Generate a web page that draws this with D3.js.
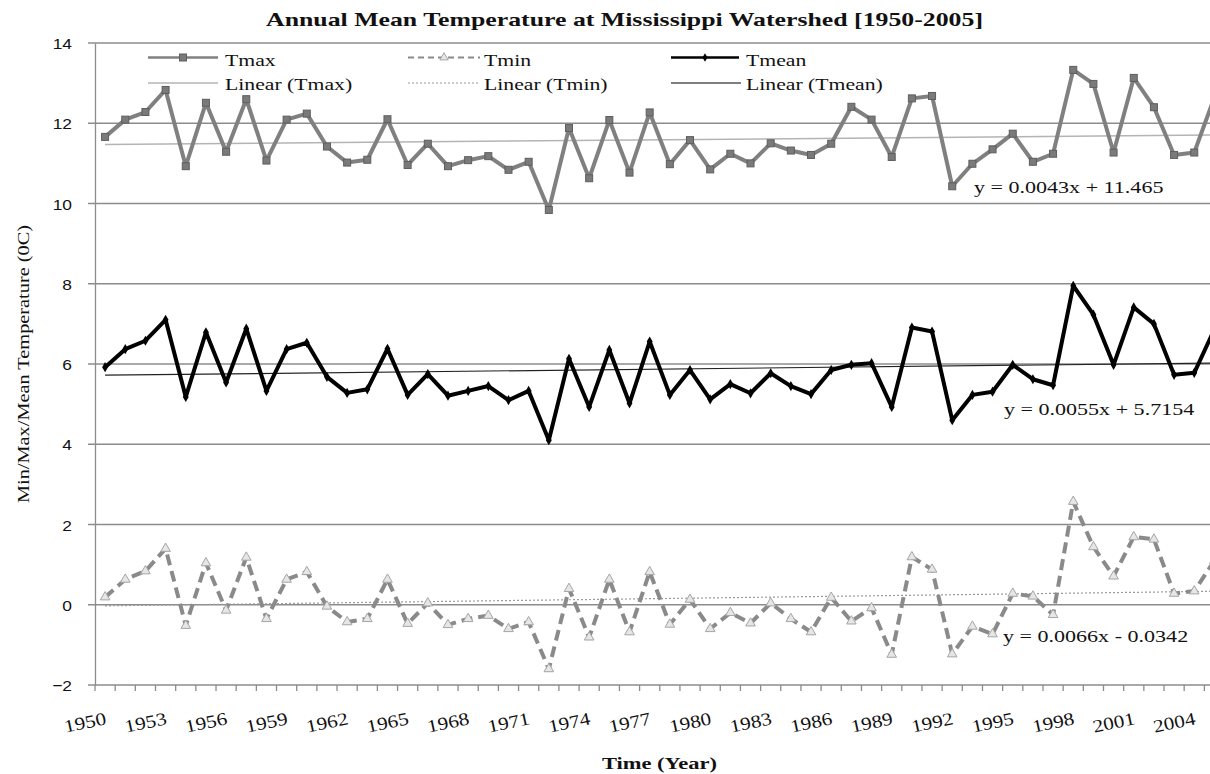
<!DOCTYPE html>
<html lang="en">

<head>
    <meta charset="utf-8">
    <title>Annual Mean Temperature at Mississippi Watershed [1950-2005]</title>
    <style type="text/css">
        body {
            margin: 0;
            background: #fff;
        }

        svg text {
            font-family: 'Liberation Serif', 'Times New Roman', serif;
            fill: #111;
        }
    </style>
    <script type="text/javascript" src="https://cdn.jsdelivr.net/npm/d3@7/dist/d3.min.js"></script>
</head>

<body>
    <script type="text/javascript">
        /* DATA */

        var years = [1950, 1951, 1952, 1953, 1954, 1955, 1956, 1957, 1958, 1959,
            1960, 1961, 1962, 1963, 1964, 1965, 1966, 1967, 1968, 1969,
            1970, 1971, 1972, 1973, 1974, 1975, 1976, 1977, 1978, 1979,
            1980, 1981, 1982, 1983, 1984, 1985, 1986, 1987, 1988, 1989,
            1990, 1991, 1992, 1993, 1994, 1995, 1996, 1997, 1998, 1999,
            2000, 2001, 2002, 2003, 2004, 2005];

        var tmax = [11.66, 12.09, 12.28, 12.83, 10.93, 12.51, 11.29, 12.60, 11.07, 12.09,
            12.24, 11.42, 11.02, 11.09, 12.10, 10.96, 11.49, 10.93, 11.08, 11.18,
            10.84, 11.04, 9.84, 11.88, 10.63, 12.08, 10.77, 12.27, 10.98, 11.58,
            10.85, 11.24, 11.00, 11.50, 11.32, 11.21, 11.49, 12.41, 12.09, 11.16,
            12.62, 12.68, 10.43, 10.99, 11.35, 11.74, 11.04, 11.24, 13.33, 12.98,
            11.27, 13.13, 12.40, 11.21, 11.27, 12.65];

        var tmin = [0.19, 0.63, 0.84, 1.40, -0.52, 1.04, -0.14, 1.18, -0.35, 0.63,
            0.82, -0.04, -0.43, -0.35, 0.63, -0.47, 0.04, -0.50, -0.35, -0.27,
            -0.60, -0.43, -1.60, 0.40, -0.81, 0.63, -0.68, 0.82, -0.49, 0.13,
            -0.60, -0.20, -0.46, 0.04, -0.35, -0.68, 0.18, -0.41, -0.08, -1.24,
            1.19, 0.88, -1.23, -0.54, -0.73, 0.28, 0.21, -0.25, 2.57, 1.44,
            0.71, 1.69, 1.63, 0.28, 0.34, 1.10];

        var tmean = [5.92, 6.37, 6.58, 7.10, 5.18, 6.79, 5.54, 6.88, 5.33, 6.37,
            6.53, 5.68, 5.28, 5.37, 6.38, 5.23, 5.75, 5.21, 5.33, 5.45,
            5.10, 5.33, 4.10, 6.13, 4.93, 6.35, 5.02, 6.56, 5.23, 5.85,
            5.12, 5.50, 5.27, 5.77, 5.45, 5.25, 5.85, 5.98, 6.02, 4.93,
            6.91, 6.81, 4.60, 5.23, 5.31, 5.98, 5.62, 5.47, 7.95, 7.23,
            5.98, 7.41, 7.00, 5.73, 5.78, 6.87];

        // trendline coefficients: y = slope * x + intercept, x = 1..56
        var trendNames = ["Tmax", "Tmin", "Tmean"];
        var trendSlopes = [0.0043, 0.0066, 0.0055];
        var trendIntercepts = [11.465, -0.0342, 5.7154];

        var yTicks = [-2, 0, 2, 4, 6, 8, 10, 12, 14];
        var xTickLabels = [1950, 1953, 1956, 1959, 1962, 1965, 1968, 1971, 1974, 1977,
            1980, 1983, 1986, 1989, 1992, 1995, 1998, 2001, 2004];

        /* LAYOUT */

        var svgW = 1210;
        var svgH = 774;
        var plotL = 95;
        var catW = 20.17;
        var plotR = plotL + years.length * catW;
        var plotT = 43;
        var plotB = 685;

        var svg = d3.select("body").append("svg")
            .attr("width", svgW)
            .attr("height", svgH);

        var x = d3.scaleBand().domain(years).range([plotL, plotR]);
        var y = d3.scaleLinear().domain([-2, 14]).range([plotB, plotT]);
        var cx = function (yr) { return x(yr) + x.bandwidth() / 2; };

        // widen glyphs, the source picture is stretched sideways
        function stretch(sel, sx) {
            sel.each(function () {
                var len = this.getComputedTextLength();
                d3.select(this)
                    .attr("textLength", len * sx)
                    .attr("lengthAdjust", "spacingAndGlyphs");
            });
        }

        /* GRID + AXES */

        var gridCol = "#8c8c8c";

        svg.append("g").selectAll("line")
            .data(yTicks)
            .enter().append("line")
            .attr("x1", plotL - 7)
            .attr("x2", plotR)
            .attr("y1", function (d) { return y(d); })
            .attr("y2", function (d) { return y(d); })
            .attr("stroke", gridCol)
            .attr("stroke-width", 1.3);

        var yAxis = svg.append("g")
            .attr("transform", "translate(" + plotL + ",0)")
            .call(d3.axisLeft(y).tickValues(yTicks).tickSize(0).tickPadding(23));
        yAxis.select(".domain").attr("stroke", gridCol).attr("stroke-width", 1.3);
        yAxis.selectAll("text")
            .style("font-family", "'Liberation Sans', Arial, sans-serif")
            .style("font-size", "15.5px")
            .attr("fill", "#222")
            .attr("dy", "0.36em");
        stretch(yAxis.selectAll("text"), 1.12);

        // category boundary ticks on the x axis
        var xAxis = svg.append("g")
            .attr("transform", "translate(0," + plotB + ")");
        xAxis.selectAll("line")
            .data(years.concat(["end"]))
            .enter().append("line")
            .attr("x1", function (d, i) { return plotL + i * x.step(); })
            .attr("x2", function (d, i) { return plotL + i * x.step(); })
            .attr("y1", 0)
            .attr("y2", 6)
            .attr("stroke", gridCol)
            .attr("stroke-width", 1.3);

        var xLab = svg.append("g").selectAll("text")
            .data(xTickLabels)
            .enter().append("text")
            .attr("transform", function (d) {
                return "translate(" + (cx(d) + 2) + ",724) rotate(-12)";
            })
            .attr("text-anchor", "end")
            .style("font-size", "18px")
            .text(function (d) { return d; });
        stretch(xLab, 1.18);

        /* TRENDLINES */

        var trendStyles = [
            { stroke: "#b4b4b4", width: 1.5, dash: null },
            { stroke: "#9a9a9a", width: 1.2, dash: "2,2" },
            { stroke: "#222", width: 1.2, dash: null }
        ];

        trendNames.forEach(function (name, k) {
            var first = years[0], last = years[years.length - 1];
            svg.append("line")
                .attr("x1", cx(first))
                .attr("x2", cx(last))
                .attr("y1", y(trendSlopes[k] * 1 + trendIntercepts[k]))
                .attr("y2", y(trendSlopes[k] * years.length + trendIntercepts[k]))
                .attr("stroke", trendStyles[k].stroke)
                .attr("stroke-width", trendStyles[k].width)
                .attr("stroke-dasharray", trendStyles[k].dash);
        });

        /* SERIES */

        var line = d3.line()
            .x(function (d, i) { return cx(years[i]); })
            .y(function (d) { return y(d); });

        // Tmax
        svg.append("path")
            .datum(tmax)
            .attr("d", line)
            .attr("fill", "none")
            .attr("stroke", "#808080")
            .attr("stroke-width", 4)
            .attr("stroke-linejoin", "round");
        svg.append("g").selectAll("rect")
            .data(tmax)
            .enter().append("rect")
            .attr("x", function (d, i) { return cx(years[i]) - 3.5; })
            .attr("y", function (d) { return y(d) - 3.5; })
            .attr("width", 7)
            .attr("height", 7)
            .attr("fill", "#7a7a7a")
            .attr("stroke", "#5e5e5e")
            .attr("stroke-width", 1);

        // Tmin
        svg.append("path")
            .datum(tmin)
            .attr("d", line)
            .attr("fill", "none")
            .attr("stroke", "#8a8a8a")
            .attr("stroke-width", 4)
            .attr("stroke-dasharray", "11,6")
            .attr("stroke-linejoin", "round");
        var tri = d3.symbol().type(d3.symbolTriangle).size(40);
        svg.append("g").selectAll("path")
            .data(tmin)
            .enter().append("path")
            .attr("d", tri)
            .attr("transform", function (d, i) {
                return "translate(" + cx(years[i]) + "," + y(d) + ")";
            })
            .attr("fill", "#e6e6e6")
            .attr("stroke", "#a5a5a5")
            .attr("stroke-width", 1);

        // Tmean
        svg.append("path")
            .datum(tmean)
            .attr("d", line)
            .attr("fill", "none")
            .attr("stroke", "#000")
            .attr("stroke-width", 4)
            .attr("stroke-linejoin", "round");
        var dia = d3.symbol().type(d3.symbolDiamond).size(30);
        svg.append("g").selectAll("path")
            .data(tmean)
            .enter().append("path")
            .attr("d", dia)
            .attr("transform", function (d, i) {
                return "translate(" + cx(years[i]) + "," + y(d) + ")";
            })
            .attr("fill", "#000");

        /* EQUATION LABELS */

        var eqPos = [[974, 193], [1003, 642], [1004, 415]];
        trendNames.forEach(function (name, k) {
            var b = trendIntercepts[k];
            var txt = "y = " + trendSlopes[k] + "x " + (b < 0 ? "- " : "+ ") + Math.abs(b);
            var t = svg.append("text")
                .attr("x", eqPos[k][0])
                .attr("y", eqPos[k][1])
                .style("font-size", "17.5px")
                .attr("fill", "#111")
                .text(txt);
            stretch(t, 1.26);
        });

        /* LEGEND */

        var legendCols = [148, 408, 671];
        var lineLen = 70;
        var row1 = 57.5, row2 = 83;

        // series row
        var lg = svg.append("g");
        lg.append("line").attr("x1", legendCols[0]).attr("x2", legendCols[0] + lineLen)
            .attr("y1", row1).attr("y2", row1)
            .attr("stroke", "#808080").attr("stroke-width", 2.5);
        lg.append("rect").attr("x", legendCols[0] + lineLen / 2 - 3.5).attr("y", row1 - 3.5)
            .attr("width", 7).attr("height", 7)
            .attr("fill", "#7a7a7a").attr("stroke", "#5e5e5e");

        lg.append("line").attr("x1", legendCols[1]).attr("x2", legendCols[1] + lineLen + 2)
            .attr("y1", row1).attr("y2", row1)
            .attr("stroke", "#8a8a8a").attr("stroke-width", 2)
            .attr("stroke-dasharray", "6,4");
        lg.append("path").attr("d", d3.symbol().type(d3.symbolTriangle).size(30))
            .attr("transform", "translate(" + (legendCols[1] + lineLen / 2 + 1) + "," + row1 + ")")
            .attr("fill", "#e6e6e6").attr("stroke", "#a5a5a5");

        lg.append("line").attr("x1", legendCols[2]).attr("x2", legendCols[2] + lineLen - 2)
            .attr("y1", row1).attr("y2", row1)
            .attr("stroke", "#000").attr("stroke-width", 2.5);
        lg.append("path").attr("d", d3.symbol().type(d3.symbolDiamond).size(22))
            .attr("transform", "translate(" + (legendCols[2] + lineLen / 2 - 1) + "," + row1 + ")")
            .attr("fill", "#000");

        // trendline row
        trendNames.forEach(function (name, k) {
            lg.append("line").attr("x1", legendCols[k]).attr("x2", legendCols[k] + lineLen)
                .attr("y1", row2).attr("y2", row2)
                .attr("stroke", k == 2 ? "#555" : trendStyles[k].stroke)
                .attr("stroke-width", k == 1 ? 1 : 1.5)
                .attr("stroke-dasharray", trendStyles[k].dash);
        });

        var legendNames = ["Tmax", "Tmin", "Tmean"];
        var textX = [225, 484, 746];
        legendNames.forEach(function (name, k) {
            var t1 = lg.append("text").attr("x", textX[k]).attr("y", row1 + 8.5)
                .style("font-size", "17.5px").text(name);
            var t2 = lg.append("text").attr("x", textX[k]).attr("y", row2 + 6.5)
                .style("font-size", "17.5px").text("Linear (" + name + ")");
            stretch(t1, 1.24);
            stretch(t2, 1.24);
        });

        /* TITLES */

        svg.append("text")
            .attr("x", 266)
            .attr("y", 26)
            .attr("textLength", 717)
            .attr("lengthAdjust", "spacingAndGlyphs")
            .style("font-size", "19px")
            .style("font-weight", "bold")
            .text("Annual Mean Temperature at Mississippi Watershed [1950-2005]");

        svg.append("text")
            .attr("transform", "translate(29," + ((plotT + plotB) / 2 + 0) + ") rotate(-90)")
            .attr("text-anchor", "middle")
            .attr("textLength", 278)
            .attr("lengthAdjust", "spacingAndGlyphs")
            .style("font-size", "17px")
            .text("Min/Max/Mean Temperature (0C)");

        svg.append("text")
            .attr("x", 602)
            .attr("y", 769)
            .attr("textLength", 115)
            .attr("lengthAdjust", "spacingAndGlyphs")
            .style("font-size", "17px")
            .style("font-weight", "bold")
            .text("Time (Year)");
    </script>
</body>

</html>
